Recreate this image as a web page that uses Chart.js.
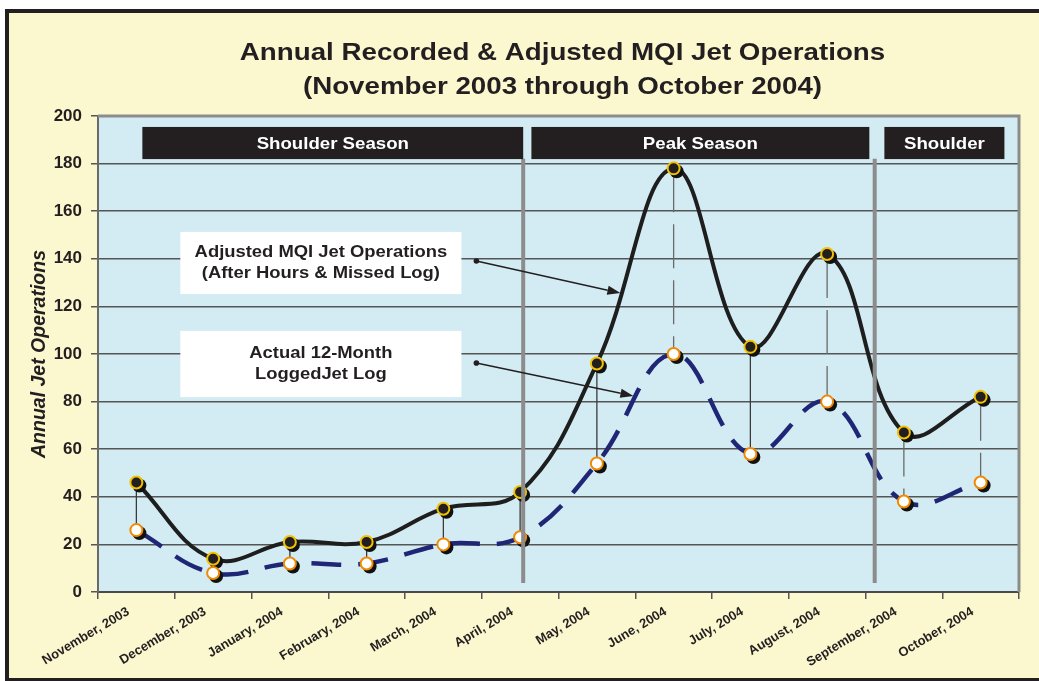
<!DOCTYPE html>
<html>
<head>
<meta charset="utf-8">
<script src="https://cdn.jsdelivr.net/npm/chart.js@4.4.1/dist/chart.umd.min.js"></script>
<style>
html,body{margin:0;padding:0;background:#ffffff;}
#wrap{width:1039px;height:681px;position:relative;}
</style>
</head>
<body>
<div id="wrap"><canvas id="c" width="1039" height="681"></canvas></div>
<script>
// ---- data ----
const months = ['November, 2003','December, 2003','January, 2004','February, 2004','March, 2004','April, 2004',
  'May, 2004','June, 2004','July, 2004','August, 2004','September, 2004','October, 2004'];
const adjustedOps = [46, 14, 21, 21, 35, 42, 96, 178, 103, 142, 67, 82];
const loggedOps   = [26,  8, 12, 12, 20, 23, 54, 100,  58,  80, 38, 46];
const yTickValues = [0, 20, 40, 60, 80, 100, 120, 140, 160, 180, 200];
const titleLines = ['Annual Recorded & Adjusted MQI Jet Operations', '(November 2003 through October 2004)'];
const yAxisTitle = 'Annual Jet Operations';
const seasonLabels = ['Shoulder Season', 'Peak Season', 'Shoulder'];
const noteAdjusted = ['Adjusted MQI Jet Operations', '(After Hours & Missed Log)'];
const noteLogged = ['Actual 12-Month', 'LoggedJet Log'];
const dashedDropMonths = ['June, 2004', 'August, 2004', 'September, 2004', 'October, 2004'];

const FONT = '"Liberation Sans", Arial, Helvetica, sans-serif';
const INK = '#231F20';

function wideText(ctx, text, x, y, sx) {
  ctx.save();
  ctx.translate(x, y);
  ctx.scale(sx, 1);
  ctx.fillText(text, 0, 0);
  ctx.restore();
}

// ---- plugins ----
const framePlugin = {
  id: 'frame',
  beforeDraw(chart) {
    const ctx = chart.ctx, a = chart.chartArea;
    ctx.save();
    ctx.fillStyle = '#ffffff';
    ctx.fillRect(0, 0, chart.width, chart.height);
    ctx.fillStyle = '#FBF8D0';
    ctx.fillRect(7, 10, chart.width - 7, chart.height - 12);
    ctx.fillStyle = INK;
    ctx.fillRect(5, 9, 4, chart.height - 9);
    ctx.fillRect(5, 9, chart.width - 5, 4);
    ctx.fillRect(5, chart.height - 3, chart.width - 5, 3);
    // plot background
    ctx.fillStyle = '#D3ECF3';
    ctx.fillRect(a.left, a.top, a.right - a.left, a.bottom - a.top);
    // title
    ctx.fillStyle = INK;
    ctx.font = 'bold 24px ' + FONT;
    ctx.textAlign = 'center';
    ctx.textBaseline = 'middle';
    const cx = (a.left + a.right) / 2 + 4;
    wideText(ctx, titleLines[0], cx, 53, 1.155);
    wideText(ctx, titleLines[1], cx, 87, 1.155);
    ctx.restore();
  },
  beforeDatasetsDraw(chart) {
    const ctx = chart.ctx, a = chart.chartArea;
    const xs = chart.scales.x, ys = chart.scales.y;
    ctx.save();
    // plot border top/right
    ctx.strokeStyle = '#8C8C8C';
    ctx.lineWidth = 3;
    ctx.beginPath();
    ctx.moveTo(a.left, a.top);
    ctx.lineTo(a.right, a.top);
    ctx.lineTo(a.right, a.bottom);
    ctx.stroke();
    // note boxes
    const X = v => xs.getPixelForValue(v), Y = v => ys.getPixelForValue(v);
    const boxes = [
      {x0: 0.573, x1: 4.235, y0: 151.3, y1: 125.2, lines: noteAdjusted},
      {x0: 0.573, x1: 4.235, y0: 109.7, y1: 81.9, lines: noteLogged}
    ];
    ctx.font = 'bold 16px ' + FONT;
    ctx.textAlign = 'center';
    ctx.textBaseline = 'middle';
    boxes.forEach(b => {
      const l = X(b.x0), r = X(b.x1), t = Y(b.y0), btm = Y(b.y1);
      ctx.fillStyle = '#ffffff';
      ctx.fillRect(l, t, r - l, btm - t);
      ctx.fillStyle = INK;
      const mid = (t + btm) / 2;
      wideText(ctx, b.lines[0], (l + r) / 2, mid - 10.5, 1.15);
      wideText(ctx, b.lines[1], (l + r) / 2, mid + 11, 1.15);
    });
    // drop lines
    months.forEach((m, i) => {
      const x = X(i);
      const dashed = dashedDropMonths.includes(m);
      ctx.strokeStyle = dashed ? '#6A6A6A' : '#3A3A3A';
      ctx.lineWidth = 1.3;
      ctx.setLineDash(dashed ? [44, 12] : []);
      ctx.beginPath();
      ctx.moveTo(x, Y(adjustedOps[i]));
      ctx.lineTo(x, Y(loggedOps[i]));
      ctx.stroke();
    });
    ctx.setLineDash([]);
    ctx.restore();
  },
  beforeDatasetDraw(chart, args) {
    const ds = chart.data.datasets[args.index];
    if (ds.isShadow) {
      chart.ctx.save();
      chart.ctx.translate(3, 3);
    }
  },
  afterDatasetDraw(chart, args) {
    const ds = chart.data.datasets[args.index];
    if (ds.isShadow) chart.ctx.restore();
  },
  afterDatasetsDraw(chart) {
    const ctx = chart.ctx;
    const xs = chart.scales.x, ys = chart.scales.y;
    const X = v => xs.getPixelForValue(v), Y = v => ys.getPixelForValue(v);
    ctx.save();
    // season dividers
    ctx.strokeStyle = '#8C8C8C';
    ctx.lineWidth = 4;
    [5.04, 9.62].forEach(v => {
      ctx.beginPath();
      ctx.moveTo(X(v), Y(182));
      ctx.lineTo(X(v), Y(3.8));
      ctx.stroke();
    });
    // season banners
    const spans = [[0.078, 5.04], [5.147, 9.55], [9.746, 11.31]];
    ctx.font = 'bold 16.5px ' + FONT;
    ctx.textAlign = 'center';
    ctx.textBaseline = 'middle';
    spans.forEach((s, i) => {
      const l = X(s[0]), r = X(s[1]), t = Y(195.4), b = Y(181.9);
      ctx.fillStyle = INK;
      ctx.fillRect(l, t, r - l, b - t);
      ctx.fillStyle = '#ffffff';
      wideText(ctx, seasonLabels[i], (l + r) / 2, (t + b) / 2 + 1, 1.13);
    });
    // arrows
    const arrows = [[4.43, 139.1, 6.306, 125.6], [4.43, 96.2, 6.476, 82.4]];
    arrows.forEach(ar => {
      const x0 = X(ar[0]), y0 = Y(ar[1]), x1 = X(ar[2]), y1 = Y(ar[3]);
      const ang = Math.atan2(y1 - y0, x1 - x0);
      ctx.strokeStyle = INK; ctx.fillStyle = INK; ctx.lineWidth = 1.5;
      ctx.beginPath();
      ctx.arc(x0, y0, 2.8, 0, Math.PI * 2);
      ctx.fill();
      const hl = 13, hw = 4.5;
      const bx = x1 - hl * Math.cos(ang), by = y1 - hl * Math.sin(ang);
      ctx.beginPath();
      ctx.moveTo(x0, y0);
      ctx.lineTo(bx, by);
      ctx.stroke();
      ctx.beginPath();
      ctx.moveTo(x1, y1);
      ctx.lineTo(bx - hw * Math.sin(ang), by + hw * Math.cos(ang));
      ctx.lineTo(bx + hw * Math.sin(ang), by - hw * Math.cos(ang));
      ctx.closePath();
      ctx.fill();
    });
    ctx.restore();
  }
};

// ---- chart ----
new Chart(document.getElementById('c'), {
  type: 'line',
  data: {
    labels: months,
    datasets: [
      { label: 'Adjusted MQI Jet Operations (After Hours & Missed Log)', data: adjustedOps, showLine: false,
        pointRadius: 6, pointBorderWidth: 2, pointBackgroundColor: INK, pointBorderColor: '#F2C200', order: 0, clip: false },
      { label: 'Actual 12-Month LoggedJet Log', data: loggedOps, showLine: false,
        pointRadius: 6, pointBorderWidth: 2, pointBackgroundColor: '#ffffff', pointBorderColor: '#F08A00', order: 1, clip: false },
      { label: 'shadowA', isShadow: true, data: adjustedOps, showLine: false,
        pointRadius: 7, pointBorderWidth: 0, pointBackgroundColor: '#111111', order: 2, clip: false },
      { label: 'shadowL', isShadow: true, data: loggedOps, showLine: false,
        pointRadius: 7, pointBorderWidth: 0, pointBackgroundColor: '#111111', order: 3, clip: false },
      { label: 'adjLine', data: adjustedOps, borderColor: '#1E1E1E', borderWidth: 4, tension: 0.4,
        pointRadius: 0, fill: false, order: 4, clip: false },
      { label: 'logLine', data: loggedOps, borderColor: '#1F2676', borderWidth: 4.5, tension: 0.4,
        borderDash: [30, 17], pointRadius: 0, fill: false, order: 5, clip: false }
    ]
  },
  options: {
    responsive: false,
    animation: false,
    events: [],
    devicePixelRatio: 1,
    layout: { padding: { top: 116, left: 0, right: 20, bottom: 0 } },
    plugins: { legend: { display: false }, tooltip: { enabled: false }, title: { display: false } },
    scales: {
      x: {
        offset: true,
        afterFit: s => { s.height = 89; },
        grid: { offset: true, drawOnChartArea: false, drawTicks: true, tickLength: 7, color: '#555555', lineWidth: 1.5 },
        border: { color: '#4A4A4A', width: 2 },
        ticks: { autoSkip: false, minRotation: 31, maxRotation: 31, padding: 5, labelOffset: -8, color: INK,
          font: { family: FONT, size: 13, weight: 'bold' } }
      },
      y: {
        min: 0, max: 200,
        afterFit: s => { s.width = 98; },
        afterBuildTicks: s => { s.ticks = yTickValues.map(v => ({ value: v })); },
        grid: { color: '#555555', lineWidth: 1.5, tickLength: 7, drawTicks: true },
        border: { color: '#6A6A6A', width: 2 },
        ticks: { padding: 9, color: INK, font: { family: FONT, size: 17, weight: 'bold' } },
        title: { display: true, text: yAxisTitle, color: INK, padding: { top: 28, bottom: 0 },
          font: { family: FONT, size: 19.5, weight: 'bold', style: 'italic' } }
      }
    }
  },
  plugins: [framePlugin]
});
</script>
</body>
</html>
